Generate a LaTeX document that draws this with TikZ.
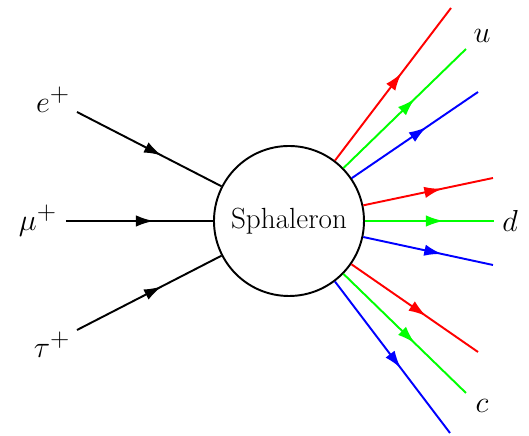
\documentclass[tikz,border=0pt]{standalone}
\usepackage{amsmath, amssymb}
\usepackage{tikz}
\usetikzlibrary{arrows.meta,decorations.markings}

\begin{document}
\begin{tikzpicture}[
  font=\fontsize{16.6}{19}\selectfont,
  fermion/.style={line width=1.1pt, postaction={decorate},
    decoration={markings, mark=at position 0.5 with
      {\arrow[xshift=8pt]{Latex[length=10pt,width=6.5pt]}}}},
  blob/.style={circle, draw, line width=1.1pt, minimum size=3cm, inner sep=0pt},
  particle/.style={font=\fontsize{19}{22}\selectfont}
]
\useasboundingbox (-5.78,-4.3) rectangle (4.8,4.42);
\node[blob] (S) at (0,0) {Sphaleron};
% incoming leptons
\coordinate (e) at (-4.24,2.18);
\coordinate (mu) at (-4.46,0);
\coordinate (tau) at (-4.24,-2.18);
\draw[fermion] (e) -- (S);
\draw[fermion] (mu) -- (S);
\draw[fermion] (tau) -- (S);
\node[particle] (le) at (-4.72,2.42) {$e^+$};
\node[particle] (lmu) at (-5.02,0) {$\mu^+$};
\node[particle] (ltau) at (-4.74,-2.48) {$\tau^+$};
% outgoing quarks
\coordinate (u1) at (3.24,4.26);
\coordinate (u2) at (3.54,3.44);
\coordinate (u3) at (3.78,2.58);
\coordinate (d1) at (4.08,0.86);
\coordinate (d2) at (4.1,0);
\coordinate (d3) at (4.08,-0.88);
\coordinate (c1) at (3.78,-2.62);
\coordinate (c2) at (3.54,-3.44);
\coordinate (c3) at (3.22,-4.24);
\draw[fermion, red] (S) -- (u1);
\draw[fermion, green] (S) -- (u2);
\draw[fermion, blue] (S) -- (u3);
\draw[fermion, red] (S) -- (d1);
\draw[fermion, green] (S) -- (d2);
\draw[fermion, blue] (S) -- (d3);
\draw[fermion, red] (S) -- (c1);
\draw[fermion, green] (S) -- (c2);
\draw[fermion, blue] (S) -- (c3);
\node[particle] (lu) at (3.86,3.7) {$u$};
\node[particle] (ld) at (4.42,0) {$d$};
\node[particle] (lc) at (3.86,-3.7) {$c$};
\end{tikzpicture}
\end{document}
